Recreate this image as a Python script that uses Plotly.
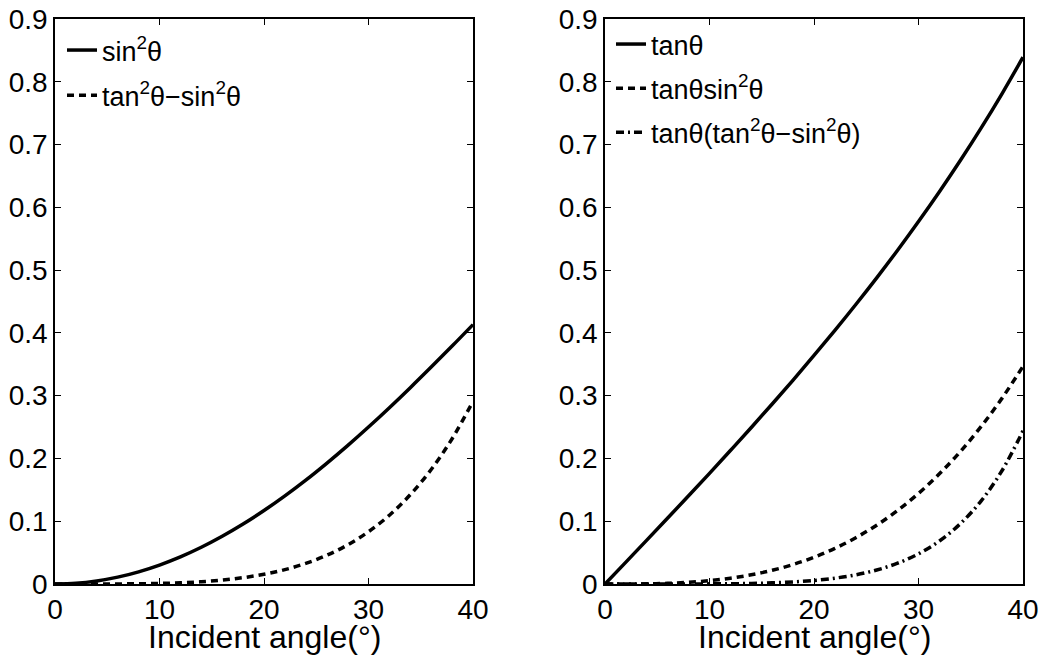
import plotly.graph_objects as go

angle = [0, 2, 4, 6, 8, 10, 12, 14, 16, 18, 20, 22, 24, 26, 28, 30, 32, 34, 36, 38, 40]

sin2 = [0, 0.0012, 0.0049, 0.0109, 0.0194, 0.0302, 0.0432, 0.0585, 0.0760, 0.0955,
        0.1170, 0.1403, 0.1654, 0.1922, 0.2204, 0.2500, 0.2808, 0.3127, 0.3455, 0.3790, 0.4132]
tan2_minus_sin2 = [0, 0.0000, 0.0000, 0.0001, 0.0004, 0.0009, 0.0020, 0.0036, 0.0062, 0.0101,
                   0.0155, 0.0229, 0.0328, 0.0457, 0.0623, 0.0833, 0.1096, 0.1423, 0.1824, 0.2314, 0.2909]

tan_t = [0, 0.0349, 0.0699, 0.1051, 0.1405, 0.1763, 0.2126, 0.2493, 0.2867, 0.3249,
         0.3640, 0.4040, 0.4452, 0.4877, 0.5317, 0.5774, 0.6249, 0.6745, 0.7265, 0.7813, 0.8391]
tan_sin2 = [0, 0.0000, 0.0003, 0.0011, 0.0027, 0.0053, 0.0092, 0.0146, 0.0218, 0.0310,
            0.0426, 0.0567, 0.0737, 0.0937, 0.1172, 0.1443, 0.1755, 0.2109, 0.2510, 0.2961, 0.3467]
tan_diff = [0, 0.0000, 0.0000, 0.0000, 0.0001, 0.0002, 0.0004, 0.0009, 0.0018, 0.0033,
            0.0056, 0.0093, 0.0146, 0.0223, 0.0331, 0.0481, 0.0685, 0.0960, 0.1325, 0.1808, 0.2441]

x_ticks = [0, 10, 20, 30, 40]
y_ticks = [0, 0.1, 0.2, 0.3, 0.4, 0.5, 0.6, 0.7, 0.8, 0.9]
y_tick_text = ["0", "0.1", "0.2", "0.3", "0.4", "0.5", "0.6", "0.7", "0.8", "0.9"]
x_title = "Incident angle(°)"

FONT = "Liberation Sans, Arial, Helvetica, sans-serif"
LW = 3.5

fig = go.Figure()

fig.add_trace(go.Scatter(x=angle, y=sin2, mode="lines", line=dict(color="black", width=LW, shape="spline"),
                         name="sin<sup>2</sup>θ", legend="legend", legendgroup="a", xaxis="x", yaxis="y"))
fig.add_trace(go.Scatter(x=angle, y=tan2_minus_sin2, mode="lines",
                         line=dict(color="black", width=LW, dash="7px,5px", shape="spline"),
                         name="tan<sup>2</sup>θ−sin<sup>2</sup>θ", legend="legend", legendgroup="b",
                         xaxis="x", yaxis="y"))

fig.add_trace(go.Scatter(x=angle, y=tan_t, mode="lines", line=dict(color="black", width=LW, shape="spline"),
                         name="tanθ", legend="legend2", legendgroup="c", xaxis="x2", yaxis="y2"))
fig.add_trace(go.Scatter(x=angle, y=tan_sin2, mode="lines",
                         line=dict(color="black", width=LW, dash="7px,5px", shape="spline"),
                         name="tanθsin<sup>2</sup>θ", legend="legend2", legendgroup="d",
                         xaxis="x2", yaxis="y2"))
fig.add_trace(go.Scatter(x=angle, y=tan_diff, mode="lines",
                         line=dict(color="black", width=LW, dash="8px,4px,2px,4px", shape="spline"),
                         name="tanθ(tan<sup>2</sup>θ−sin<sup>2</sup>θ)", legend="legend2", legendgroup="e",
                         xaxis="x2", yaxis="y2"))

ydom = [1 - 584 / 658, 1 - 19 / 658]
xdom1 = [55 / 1044, 473 / 1044]
xdom2 = [605 / 1044, 1023 / 1044]
axis_common = dict(showline=True, linecolor="black", linewidth=1.5, mirror="allticks",
                   ticks="inside", ticklen=6, tickcolor="black", showgrid=False, zeroline=False,
                   automargin=False,
                   tickfont=dict(family=FONT, size=28, color="black"))

title_y = 1 - 657 / 658
annotations = [
    dict(text=x_title, xref="paper", yref="paper", x=(xdom1[0] + xdom1[1]) / 2, y=title_y,
         xanchor="center", yanchor="bottom", showarrow=False,
         font=dict(family=FONT, size=32, color="black")),
    dict(text=x_title, xref="paper", yref="paper", x=(xdom2[0] + xdom2[1]) / 2, y=title_y,
         xanchor="center", yanchor="bottom", showarrow=False,
         font=dict(family=FONT, size=32, color="black")),
]

fig.update_layout(
    width=1044, height=658,
    margin=dict(l=0, r=0, t=0, b=0),
    paper_bgcolor="white", plot_bgcolor="white",
    font=dict(family=FONT, color="black"),
    xaxis=dict(domain=xdom1, range=[0, 40], tickvals=x_ticks, anchor="y", **axis_common),
    yaxis=dict(domain=ydom, range=[0, 0.9], tickvals=y_ticks, ticktext=y_tick_text,
               anchor="x", **axis_common),
    xaxis2=dict(domain=xdom2, range=[0, 40], tickvals=x_ticks, anchor="y2", **axis_common),
    yaxis2=dict(domain=ydom, range=[0, 0.9], tickvals=y_ticks, ticktext=y_tick_text,
                anchor="x2", **axis_common),
    annotations=annotations,
    legend=dict(x=62 / 1044, y=1 - 26 / 658, xanchor="left", yanchor="top",
                bgcolor="rgba(0,0,0,0)", borderwidth=0, tracegroupgap=7, itemwidth=30,
                font=dict(family=FONT, size=27, color="black")),
    legend2=dict(x=611 / 1044, y=1 - 20 / 658, xanchor="left", yanchor="top",
                 bgcolor="rgba(0,0,0,0)", borderwidth=0, tracegroupgap=6, itemwidth=30,
                 font=dict(family=FONT, size=27, color="black")),
    showlegend=True,
)

fig.write_html("out.html")
